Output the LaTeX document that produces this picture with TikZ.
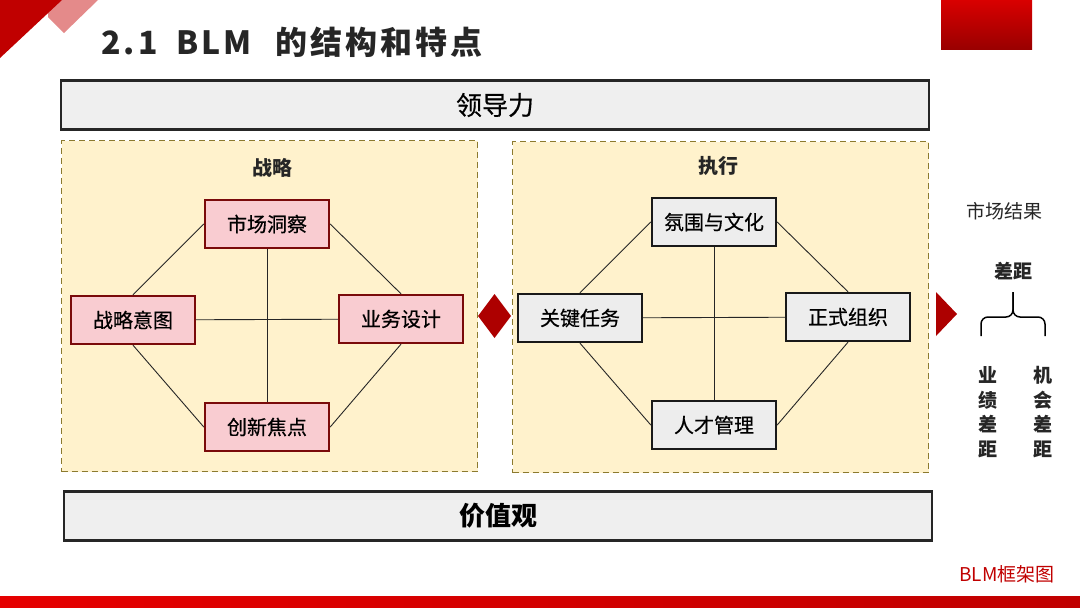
\documentclass[tikz,border=0pt]{standalone}
\usepackage{fontspec}
\setmainfont{Noto Sans CJK SC}
\usetikzlibrary{positioning}
\definecolor{SlideInk}{HTML}{262626}
\definecolor{BrandRed}{HTML}{C00000}
\definecolor{BrandPink}{HTML}{E48A8A}
\definecolor{PanelYellow}{HTML}{FFF2CC}
\definecolor{PanelDash}{HTML}{8C7A2E}
\definecolor{StrategyFill}{HTML}{F9CCD1}
\definecolor{StrategyEdge}{HTML}{7A0A0A}
\definecolor{ExecFill}{HTML}{EDEDED}
\definecolor{BandFill}{HTML}{EFEFEF}
\newcommand{\PxFont}[1]{\fontsize{#1}{#1}\selectfont}
\newcommand{\Heavier}{\addfontfeatures{FakeBold=0.5}}
\tikzset{
  slide/.style={x=1pt,y=-1pt,text=SlideInk},
  band/.style={draw=SlideInk,line width=2.2pt,fill=BandFill,minimum width=868pt,minimum height=49pt,inner sep=0pt,text=black},
  panel/.style={draw=PanelDash,line width=1.3pt,dash pattern=on 6pt off 4pt,fill=PanelYellow,minimum width=416pt,minimum height=331pt},
  stratbox/.style={draw=StrategyEdge,line width=2.4pt,fill=StrategyFill,minimum width=124pt,minimum height=48pt,inner sep=0pt,text=black,font=\PxFont{20}\Heavier},
  execbox/.style={stratbox,draw=black!90,fill=ExecFill},
  link/.style={draw=SlideInk,line width=0.9pt},
  paneltitle/.style={font=\PxFont{20}\bfseries},
}

\begin{document}
\begin{tikzpicture}[slide]
  \useasboundingbox (0,0) rectangle (1080,608);
  % corner marks and title
  \fill[BrandPink] (48,0) -- (98,0) -- (64,33) -- (48,17) -- cycle;
  \fill[BrandRed] (0,0) -- (62,0) -- (0,58) -- cycle;
  \shade[top color=red!85!black,bottom color=BrandRed!80!black] (941,0) rectangle (1032,49);
  \shade[left color=red!90!black,right color=BrandRed] (0,596) rectangle (1080,608);
  \node[anchor=west,font=\PxFont{32}\bfseries\addfontfeatures{LetterSpace=9}] (title) at (98,42)
    {2.1\hspace{19pt}BLM\hspace{24pt}的结构和特点};

  \node[band] (lead) at (495,105) {\PxFont{26}\Heavier 领导力};
  \node[band] (values) at (498,516) {\PxFont{26}\bfseries 价值观};

  \node[panel] (strategy) at (269.5,306) {};
  \node[panel] (execution) at (720.5,307) {};
  \node[paneltitle] (stratlabel) at (272,168) {战略};
  \node[paneltitle] (execlabel) at (718,166) {执行};

  % strategy
  \node[stratbox] (insight) at (267,224) {市场洞察};
  \node[stratbox] (intent) at (133,320) {战略意图};
  \node[stratbox] (design) at (401,319) {业务设计};
  \node[stratbox] (innovate) at (267,427) {创新焦点};
  \draw[link] (insight.west) -- (intent.north);
  \draw[link] (insight.east) -- (design.north);
  \draw[link] (intent.south) -- (innovate.west);
  \draw[link] (design.south) -- (innovate.east);
  \draw[link] (insight) -- (innovate);
  \draw[link] (intent) -- (design);

  % execution
  \node[execbox] (culture) at (714,222) {氛围与文化};
  \node[execbox] (tasks) at (580,318) {关键任务};
  \node[execbox] (formal) at (848,317) {正式组织};
  \node[execbox] (talent) at (714,425) {人才管理};
  \draw[link] (culture.west) -- (tasks.north);
  \draw[link] (culture.east) -- (formal.north);
  \draw[link] (tasks.south) -- (talent.west);
  \draw[link] (formal.south) -- (talent.east);
  \draw[link] (culture) -- (talent);
  \draw[link] (tasks) -- (formal);

  \fill[BrandRed!90!black] (478,316) -- (494.5,294) -- (511,316) -- (494.5,338) -- cycle;
  \fill[BrandRed!90!black] (936,292) -- (957,314) -- (936,336) -- cycle;

  % market result
  \node[font=\PxFont{19}] (result) at (1004,211) {市场结果};
  \node[font=\PxFont{19}\bfseries] (gap) at (1013,271) {差距};
  \coordinate (tip) at (1013,292);
  \coordinate (leftfoot) at (981,336);
  \coordinate (rightfoot) at (1045,336);
  \draw[line width=1.5pt,rounded corners=7pt] (leftfoot) -- (981,317) -- (1013,317) -- (tip);
  \draw[line width=1.5pt,rounded corners=7pt] (rightfoot) -- (1045,317) -- (1013,317) -- (tip);
  \node[font=\fontsize{19}{24.5}\selectfont\bfseries,align=center] (perfgap) at (988,412) {业\\绩\\差\\距};
  \node[font=\fontsize{19}{24.5}\selectfont\bfseries,align=center] (oppgap) at (1043,412) {机\\会\\差\\距};

  \node[text=BrandRed,font=\PxFont{19}] (caption) at (1007,574) {BLM框架图};
\end{tikzpicture}
\end{document}
